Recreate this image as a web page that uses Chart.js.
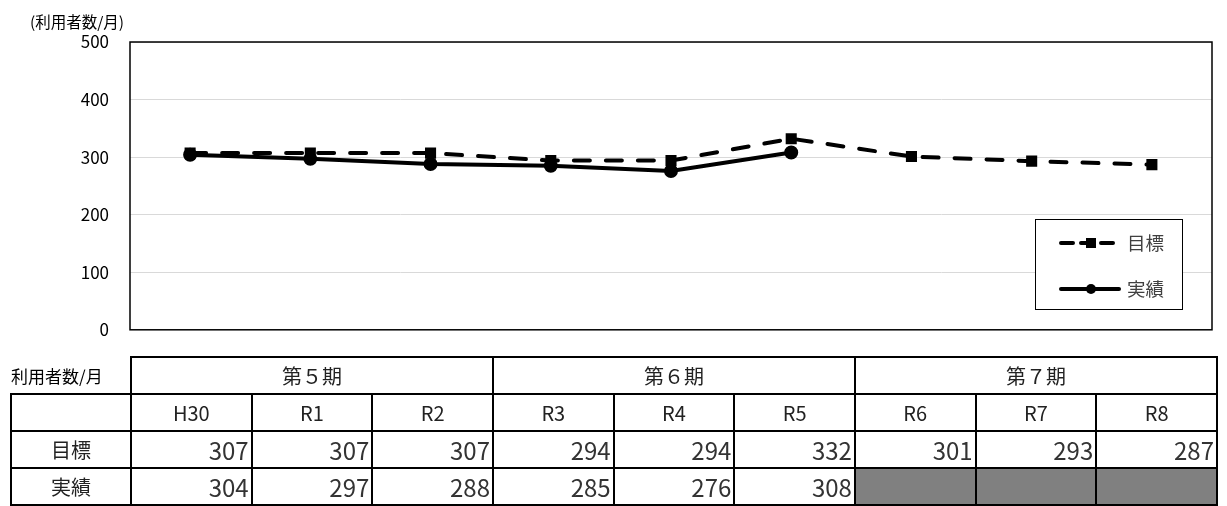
<!DOCTYPE html>
<html lang="ja">
<head>
<meta charset="utf-8">
<script src="https://cdn.jsdelivr.net/npm/chart.js@4"></script>
<style>
  html, body { margin: 0; background: #fff; overflow: hidden; font-family: "Noto Sans CJK JP", "Noto Sans", sans-serif; }
  #wrap { position: relative; width: 1227px; height: 506px; overflow: hidden; }
  #unit { position: absolute; left: 30px; top: 10px; font-size: 15.5px; color: #000; }
  canvas { position: absolute; left: 0; top: 0; }
  table { position: absolute; left: 10px; top: 356px; border-collapse: collapse; table-layout: fixed; width: 1208px; }
  td { border: 2px solid #000; padding: 0 2px; font-size: 20px; text-align: center; color: #222; line-height: 1; overflow: hidden; }
  tr { height: 37px; }
  td.num { text-align: right; font-size: 24px; color: #333; }
  td.gray { background: #808080; }
  td.nob { border: none; border-right: 2px solid #000; font-size: 17px; text-align: left; padding-left: 0; color: #000; }
</style>
</head>
<body>
<div id="wrap">
  <canvas id="lineChart" width="1227" height="361"></canvas>
  <div id="unit">(利用者数/月)</div>
  <table id="tbl"></table>
</div>
<script>
// 年度と期
const years = ['H30', 'R1', 'R2', 'R3', 'R4', 'R5', 'R6', 'R7', 'R8'];
const periods = ['第５期', '第６期', '第７期'];
// 目標・実績（利用者数/月）
const targetValues = [307, 307, 307, 294, 294, 332, 301, 293, 287];
const actualValues = [304, 297, 288, 285, 276, 308, null, null, null];
const yTicks = [0, 100, 200, 300, 400, 500];

// 枠線と凡例を描くプラグイン
const boxAndLegend = {
    id: 'boxAndLegend',
    afterDraw(chart) {
        const ctx = chart.ctx;
        const a = chart.chartArea;
        ctx.save();
        ctx.strokeStyle = '#000';
        ctx.lineWidth = 1.5;
        ctx.strokeRect(a.left, a.top, a.right - a.left, a.bottom - a.top);

        // 凡例
        const lx = 1035, ly = 219, lw = 147, lh = 90;
        ctx.fillStyle = '#fff';
        ctx.fillRect(lx, ly, lw, lh);
        ctx.lineWidth = 1;
        ctx.strokeRect(lx + 0.5, ly + 0.5, lw, lh);
        chart.data.datasets.forEach((ds, i) => {
            const y = ly + 24 + i * 46;
            ctx.strokeStyle = '#000';
            ctx.lineWidth = ds.borderWidth;
            ctx.lineCap = 'round';
            ctx.setLineDash(i === 0 ? [12, 8] : []);
            ctx.beginPath();
            ctx.moveTo(lx + 26, y);
            ctx.lineTo(lx + 84, y);
            ctx.stroke();
            ctx.setLineDash([]);
            ctx.fillStyle = '#000';
            if (ds.pointStyle === 'rect') {
                ctx.fillRect(lx + 51, y - 5, 10, 10);
            } else {
                ctx.beginPath();
                ctx.arc(lx + 56, y, 5, 0, Math.PI * 2);
                ctx.fill();
            }
            ctx.fillStyle = '#404040';
            ctx.font = '18.5px "Noto Sans CJK JP"';
            ctx.textBaseline = 'middle';
            ctx.fillText(ds.label, lx + 92, y);
        });
        ctx.restore();
    }
};

var ctx = document.getElementById('lineChart').getContext('2d');
var lineChart = new Chart(ctx, {
    type: 'line',
    data: {
        labels: years,
        datasets: [{
            label: '目標',
            data: targetValues,
            borderColor: '#000',
            backgroundColor: '#000',
            borderWidth: 4,
            borderDash: [16, 16],
            borderCapStyle: 'round',
            pointStyle: 'rect',
            pointRadius: 5,
            tension: 0
        }, {
            label: '実績',
            data: actualValues,
            borderColor: '#000',
            backgroundColor: '#000',
            borderWidth: 4,
            pointStyle: 'circle',
            pointRadius: 5,
            tension: 0
        }]
    },
    options: {
        responsive: false,
        animation: false,
        layout: { padding: { top: 42, bottom: 11, right: 15, left: 0 } },
        plugins: { legend: { display: false }, tooltip: { enabled: false } },
        scales: {
            x: { display: false, offset: true },
            y: {
                min: 0,
                max: 500,
                afterFit: (s) => { s.width = 130; },
                afterBuildTicks: (s) => { s.ticks = yTicks.map(v => ({ value: v })); },
                grid: { color: '#d9d9d9', lineWidth: 1, drawTicks: false },
                border: { display: false },
                ticks: {
                    padding: 21,
                    color: '#000',
                    font: { size: 17, family: '"Noto Sans CJK JP", "Noto Sans"' }
                }
            }
        }
    },
    plugins: [boxAndLegend]
});

// 表の作成
const tbl = document.getElementById('tbl');
let html = '<colgroup><col style="width:120px">';
years.forEach(() => { html += '<col>'; });
html += '</colgroup><tr><td class="nob">利用者数/月</td>';
periods.forEach(p => { html += '<td colspan="3">' + p + '</td>'; });
html += '</tr><tr><td></td>';
years.forEach(y => { html += '<td>' + y + '</td>'; });
html += '</tr><tr><td>目標</td>';
targetValues.forEach(v => { html += '<td class="num">' + v + '</td>'; });
html += '</tr><tr><td>実績</td>';
actualValues.forEach(v => {
    html += v === null ? '<td class="num gray"></td>' : '<td class="num">' + v + '</td>';
});
html += '</tr>';
tbl.innerHTML = html;
</script>
</body>
</html>
